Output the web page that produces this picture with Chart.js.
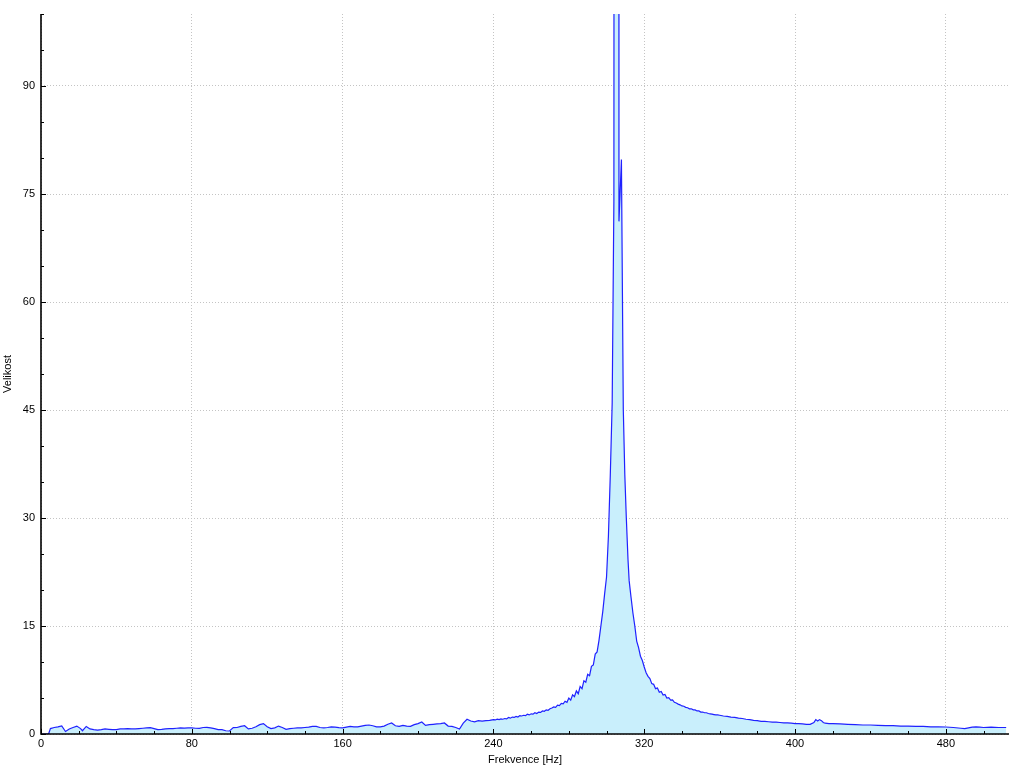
<!DOCTYPE html>
<html>
<head>
<meta charset="utf-8">
<script src="https://cdn.jsdelivr.net/npm/chart.js@4"></script>
<style>
  html, body { margin: 0; padding: 0; background: #fff; }
  #wrap { width: 1024px; height: 768px; }
</style>
</head>
<body>
<div id="wrap"><canvas id="myChart" width="1024" height="768"></canvas></div>
<script>
// frekvence [Hz] a velikost spektra
const freqHz = [
  0, 2, 4, 5, 7, 9, 11, 13, 15, 17, 19, 21, 22, 24, 26, 28,
  30, 32, 34, 36, 38, 40, 42, 44, 46, 48, 50, 52, 54, 56, 58, 60,
  62, 64, 66, 68, 70, 72, 74, 76, 78, 80, 82, 84, 86, 88, 90, 92,
  94, 96, 98, 100, 102, 104, 106, 108, 110, 112, 114, 116, 118, 120, 122, 124,
  126, 128, 130, 132, 134, 136, 138, 140, 142, 144, 146, 148, 150, 152, 154, 156,
  158, 160, 162, 164, 166, 168, 170, 172, 174, 176, 178, 180, 182, 184, 186, 188,
  190, 192, 194, 196, 198, 200, 202, 204, 206, 208, 210, 212, 214, 216, 218, 220,
  222, 224, 226, 228, 230, 232, 234, 236, 238,
  240, 241, 242, 243, 244, 245, 246, 247, 248, 249, 250, 251, 252, 253, 254, 255, 256, 257, 258, 259,
  260, 261, 262, 263, 264, 265, 266, 267, 268, 269, 270, 271, 272, 273, 274, 275, 276, 277, 278, 279,
  280, 281, 282, 283, 284, 285, 286, 287, 288, 289, 290, 291, 292, 293, 294, 295, 296, 297, 298, 299,
  300, 301, 302, 303, 303.9, 304.2, 306.4, 306.6, 307.9, 308.9, 309.7, 310.5, 311.4, 312,
  313, 314, 315, 316, 317, 318, 319, 320, 321, 322, 323, 324, 325, 326, 327, 328, 329, 330, 331, 332,
  333, 334, 335, 336, 337, 338, 339, 340, 341, 342, 343, 344, 345, 346, 347, 348, 349, 350, 351, 352,
  353, 354, 355, 356, 357, 358, 359, 360, 362, 364, 366, 368, 370, 372, 374, 376, 378, 380,
  382, 384, 386, 388, 390, 392, 394, 396, 398, 400, 402, 404, 406, 408, 410, 411, 412, 413, 414, 415,
  416, 418, 420, 424, 428, 432, 436, 440, 444, 448, 452, 456, 460, 464, 468, 472, 476, 480,
  484, 488, 490, 492, 494, 496, 498, 500, 504, 508, 512
];
const velikost = [
  0, 0, 0, 0.75, 0.9, 1.0, 1.12, 0.35, 0.7, 0.9, 1.1, 0.75, 0.45, 1.05, 0.7, 0.6,
  0.55, 0.6, 0.7, 0.65, 0.6, 0.6, 0.7, 0.7, 0.75, 0.7, 0.7, 0.75, 0.8, 0.85, 0.88, 0.75,
  0.62, 0.65, 0.72, 0.75, 0.74, 0.8, 0.84, 0.82, 0.85, 0.84, 0.8, 0.78, 0.9, 0.92, 0.85, 0.75,
  0.62, 0.6, 0.45, 0.42, 0.88, 0.9, 1.05, 1.15, 0.7, 0.8, 1.0, 1.3, 1.44, 1.0, 0.75, 0.85,
  1.1, 0.9, 0.65, 0.75, 0.8, 0.85, 0.84, 0.9, 0.95, 1.05, 1.05, 0.9, 0.84, 0.9, 1.0, 0.95,
  0.88, 0.84, 0.95, 1.05, 1.0, 1.0, 1.1, 1.2, 1.25, 1.15, 1.0, 1.0, 1.1, 1.35, 1.53, 1.15,
  1.07, 1.2, 1.1, 1.07, 1.3, 1.45, 1.67, 1.2, 1.3, 1.35, 1.4, 1.45, 1.53, 1.1, 1.05, 0.9,
  0.7, 1.5, 2.04, 1.8, 1.7, 1.85, 1.8, 1.85, 1.9,
  2.0, 1.95, 2.05, 2.0, 2.1, 2.05, 2.15, 2.1, 2.3, 2.2, 2.35, 2.3, 2.45, 2.35, 2.55, 2.5, 2.6, 2.55, 2.75, 2.65,
  2.8, 2.75, 2.95, 2.85, 3.05, 3.0, 3.2, 3.15, 3.35, 3.3, 3.5, 3.6, 3.75, 3.7, 4.0, 3.95, 4.25, 4.2, 4.55, 4.4,
  5.0, 4.7, 5.45, 5.2, 6.0, 5.6, 6.6, 6.3, 7.4, 7.2, 8.3, 8.1, 9.4, 9.6, 11.1, 11.4, 13.0, 15.0, 17.0, 19.5,
  21.8, 27.5, 36, 46, 74, 260, 260, 71.2, 79.8, 45, 36, 30, 24.2, 21.3,
  19.0, 16.8, 15.0, 12.9, 12.0, 10.8, 10.2, 9.3, 8.5, 8.0, 7.7, 7.0, 6.9, 6.3, 6.4, 5.8, 5.9, 5.4, 5.5, 5.0,
  5.05, 4.7, 4.75, 4.4, 4.3, 4.15, 4.05, 3.9, 3.85, 3.7, 3.65, 3.5, 3.5, 3.35, 3.35, 3.2, 3.2, 3.05, 3.05, 2.95,
  2.95, 2.85, 2.8, 2.75, 2.7, 2.65, 2.65, 2.6, 2.5, 2.45, 2.35, 2.3, 2.2, 2.15, 2.05, 2.0, 1.9, 1.85,
  1.75, 1.75, 1.7, 1.65, 1.65, 1.6, 1.55, 1.55, 1.5, 1.45, 1.45, 1.4, 1.35, 1.35, 1.6, 2.0, 1.8, 2.0, 1.85, 1.6,
  1.5, 1.45, 1.45, 1.4, 1.35, 1.3, 1.25, 1.25, 1.2, 1.15, 1.15, 1.1, 1.1, 1.05, 1.05, 1.0, 1.0, 0.97,
  0.9, 0.8, 0.75, 0.85, 0.95, 1.0, 0.95, 0.9, 0.95, 0.9, 0.9
];

// osy
const xMax = 513.5, xStep = 80, xMinorStep = 20;
const yMax = 100, yStep = 15, yMinorStep = 5;

const points = freqHz.map((f, i) => ({x: f, y: velikost[i]}));

const font11 = {family: 'Liberation Sans', size: 11};

// osy a tiky dovnitř grafu (jako v Qwt)
const axisTicks = {
  id: 'axisTicks',
  afterDraw(chart) {
    const ctx = chart.ctx, a = chart.chartArea;
    const xs = chart.scales.x, ys = chart.scales.y;
    ctx.save();
    ctx.strokeStyle = '#000';
    ctx.lineWidth = 1;
    ctx.beginPath();
    for (let v = 0; v <= xMax; v += xMinorStep) {
      const px = Math.round(xs.getPixelForValue(v)) + 0.5;
      const len = v % xStep === 0 ? 5 : 3;
      ctx.moveTo(px, a.bottom);
      ctx.lineTo(px, a.bottom - len);
    }
    for (let v = 0; v <= yMax; v += yMinorStep) {
      const py = Math.round(ys.getPixelForValue(v)) + 0.5;
      const len = v % yStep === 0 ? 5 : 3;
      ctx.moveTo(a.left, py);
      ctx.lineTo(a.left + len, py);
    }
    ctx.stroke();
    // hlavní osy
    ctx.lineWidth = 1.6;
    ctx.beginPath();
    ctx.moveTo(a.left, a.top);
    ctx.lineTo(a.left, a.bottom);
    ctx.lineTo(a.right, a.bottom);
    ctx.stroke();
    ctx.restore();
  }
};

new Chart(document.getElementById('myChart'), {
  type: 'line',
  data: {
    datasets: [{
      data: points,
      borderColor: 'rgba(10,10,255,0.9)',
      borderWidth: 1.2,
      backgroundColor: '#c9effc',
      fill: 'origin',
      pointRadius: 0,
      tension: 0
    }]
  },
  options: {
    responsive: false,
    animation: false,
    layout: {padding: {top: 14, right: 15, bottom: 0, left: 0}},
    plugins: {legend: {display: false}, tooltip: {enabled: false}},
    scales: {
      x: {
        type: 'linear',
        min: 0,
        max: xMax,
        afterFit(scale) { scale.height = 34; },
        ticks: {stepSize: xStep, includeBounds: false, autoSkip: false, maxRotation: 0,
                color: '#000', font: font11, padding: 3},
        grid: {color: '#c4c4c4', drawTicks: false, lineWidth: 1},
        border: {display: false, dash: [1, 2]},
        title: {display: true, text: 'Frekvence [Hz]', color: '#000', font: font11,
                padding: {top: 0, bottom: 1.5}}
      },
      y: {
        min: 0,
        max: yMax,
        afterFit(scale) { scale.width = 41; },
        ticks: {stepSize: yStep, includeBounds: false, color: '#000', font: font11, padding: 6},
        grid: {color: '#c4c4c4', drawTicks: false, lineWidth: 1},
        border: {display: false, dash: [1, 2]},
        title: {display: true, text: 'Velikost', color: '#000', font: font11,
                padding: {top: 1.5, bottom: 0}}
      }
    }
  },
  plugins: [axisTicks]
});
</script>
</body>
</html>
